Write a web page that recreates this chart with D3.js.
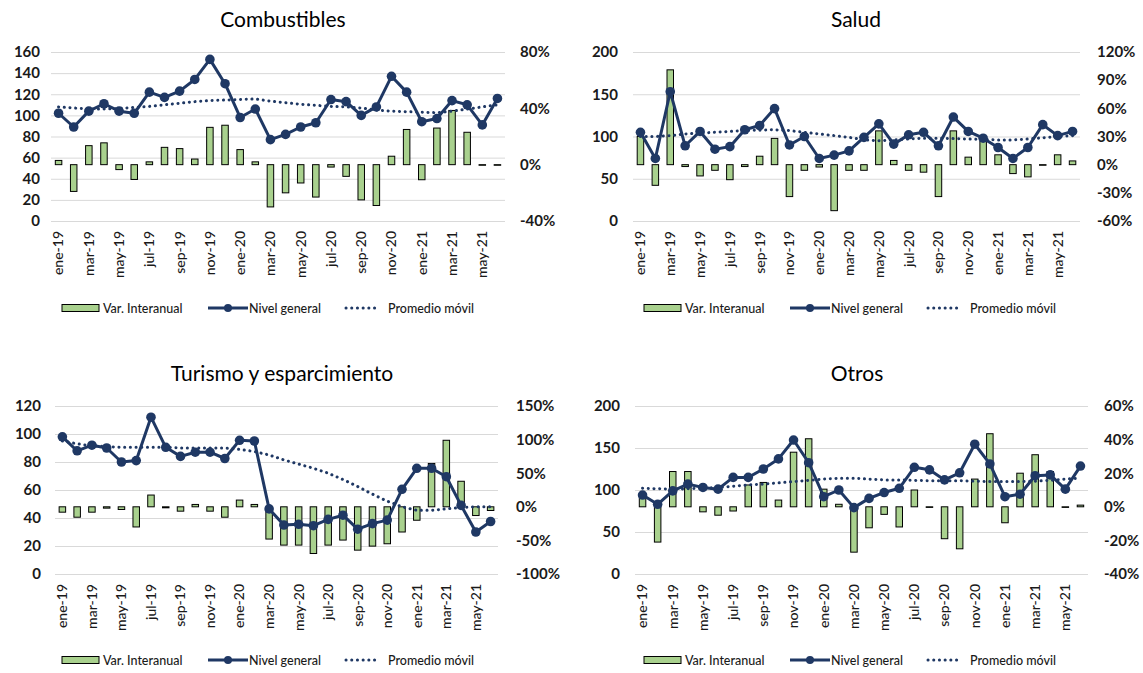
<!DOCTYPE html>
<html>
<head>
<meta charset="utf-8">
<script src="https://cdn.jsdelivr.net/npm/d3@7"></script>
<style>
  body { margin: 0; background: #fff; }
  text { font-family: Lato, "Open Sans", sans-serif; }
</style>
</head>
<body>
<svg id="chart" width="1143" height="673"></svg>
<script>
const months = ["ene-19","feb-19","mar-19","abr-19","may-19","jun-19","jul-19","ago-19","sep-19","oct-19","nov-19","dic-19",
  "ene-20","feb-20","mar-20","abr-20","may-20","jun-20","jul-20","ago-20","sep-20","oct-20","nov-20","dic-20",
  "ene-21","feb-21","mar-21","abr-21","may-21","jun-21"];

// Combustibles
const combNivel = [102, 89, 104, 111, 104, 102, 122, 117, 123, 134, 153, 130, 98, 106, 77, 82, 89, 93, 115, 113, 100, 108, 137, 122, 94, 97, 114, 110, 91, 116];
const combVar = [3, -19, 13.5, 15.5, -3.5, -10.5, 2, 12.3, 11.4, 4, 26.5, 28, 10.7, 2, -30, -20, -13, -23, -1.7, -8.3, -25, -29, 6, 25, -10.7, 26, 38.5, 23, 0, 0];
const combProm = [108, 107, 106, 106, 106.5, 107.5, 108.5, 110, 111.5, 113, 114, 114.5, 115, 115.5, 113.5, 112, 110.5, 109.5, 108.5, 108, 107, 105, 104, 103.5, 103, 102.5, 104, 106, 108, 110];

// Salud
const saludNivel = [105, 74, 153, 89, 106, 85, 88, 108, 113, 133, 90, 100, 74, 78, 83, 99, 115, 91, 102, 105, 89, 123, 106, 98, 87, 74, 87, 114, 101, 106];
const saludVar = [30, -22, 101, -2, -12, -6, -16, -2, 9, 28, -34, -6, -2.5, -49, -6, -6, 36, 4.5, -6, -8, -34, 36, 8, 25, 10.5, -9.5, -13, 0, 10.5, 4];
const saludProm = [100, 100, 101, 103, 104, 105, 106, 107, 107.5, 108, 107, 105, 103, 101, 99, 96, 95, 96, 97, 98, 98, 97.5, 97, 96.5, 96, 96, 97, 98.5, 100, 101];

// Turismo y esparcimiento
const turNivel = [98, 88, 92, 90, 80, 81, 112, 90.5, 84, 87, 87, 82.5, 95.5, 95, 46.5, 35, 35.5, 34.5, 39, 42, 32, 36, 38.5, 60.5, 75.5, 75.5, 69.5, 49, 30, 37.5];
const turVar = [-8, -15.5, -8, -2, -4, -30, 17.5, -1.5, -6.5, 3.5, -6.5, -15.5, 10, 3.5, -48, -57, -57, -69.5, -57, -49.5, -64.5, -58.5, -55, -37.5, -20, 64.5, 99, 38, -13, -5.5];
const turProm = [95, 93, 91.5, 91, 90.5, 90.5, 90.5, 90.5, 90, 90, 90, 90, 89, 87.5, 85, 81.5, 78.5, 75.5, 72, 67.5, 62.5, 57, 52, 48, 45.5, 45.5, 46.5, 47.5, 48, 48];

// Otros
const otrosNivel = [94, 83, 99, 107, 103, 101, 115, 115, 125, 137, 159.5, 132.5, 92, 100, 79, 90, 97, 102, 127, 124, 112, 120.5, 154.5, 131, 92, 95, 117, 118, 101, 128.5];
const otrosVar = [6.5, -21, 21, 21, -3, -5, -2.5, 13, 14.5, 4, 32.5, 40.5, 10.5, 1.5, -27, -12.5, -4.5, -12, 10, 0, -19, -25, 16.5, 43.5, -9.5, 20, 31, 21, 0, 1];
const otrosProm = [102, 101.5, 101, 101.5, 102, 103, 104.5, 106, 107, 108.5, 110, 111.5, 113, 114, 114, 113, 112, 112, 111.5, 111, 111, 111, 110.5, 110, 110, 110, 110.5, 111.5, 113, 114];

const legendLabels = ["Var. Interanual", "Nivel general", "Promedio móvil"];

const navy = "#1F3864";
const green = "#A9D18E";
const ink = "#1a1a1a";

const svg = d3.select("#chart");

// layout for each small chart
const panels = [
  { title: "Combustibles", nivel: combNivel, varia: combVar, prom: combProm,
    xr: [51, 505], yr: [221, 52], left: [0, 160], leftStep: 20, right: [-40, 80], rightStep: 40,
    leftX: 40, rightX: 520, titleX: 283, titleY: 27, legX: 62, legY: 308 },
  { title: "Salud", nivel: saludNivel, varia: saludVar, prom: saludProm,
    xr: [633, 1080], yr: [221, 52], left: [0, 200], leftStep: 50, right: [-60, 120], rightStep: 30,
    leftX: 618, rightX: 1097, titleX: 856, titleY: 27, legX: 644, legY: 308 },
  { title: "Turismo y esparcimiento", nivel: turNivel, varia: turVar, prom: turProm,
    xr: [55, 498], yr: [574, 406], left: [0, 120], leftStep: 20, right: [-100, 150], rightStep: 50,
    leftX: 41, rightX: 516, titleX: 282, titleY: 381, legX: 62, legY: 660 },
  { title: "Otros", nivel: otrosNivel, varia: otrosVar, prom: otrosProm,
    xr: [635, 1088], yr: [574, 406], left: [0, 200], leftStep: 50, right: [-40, 60], rightStep: 20,
    leftX: 620, rightX: 1104, titleX: 857, titleY: 381, legX: 644, legY: 660 }
];

panels.forEach((p) => {
  const g = svg.append("g");

  const x = d3.scaleBand().domain(months).range(p.xr);
  const yL = d3.scaleLinear().domain(p.left).range(p.yr);
  const yR = d3.scaleLinear().domain(p.right).range(p.yr);
  const cx = (i) => x(months[i]) + x.bandwidth() / 2;

  const leftTicks = d3.range(p.left[0], p.left[1] + 0.001, p.leftStep);
  const rightTicks = d3.range(p.right[0], p.right[1] + 0.001, p.rightStep);

  // title
  g.append("text")
    .attr("x", p.titleX)
    .attr("y", p.titleY)
    .attr("text-anchor", "middle")
    .attr("font-size", 21)
    .attr("fill", "#000")
    .text(p.title);

  // gridlines
  g.append("g")
    .attr("transform", `translate(${p.xr[0]},0)`)
    .call(d3.axisLeft(yL).tickValues(leftTicks).tickSize(-(p.xr[1] - p.xr[0])).tickFormat(""))
    .call((a) => a.select(".domain").remove())
    .call((a) => a.selectAll("line").attr("stroke", "#D9D9D9").attr("stroke-width", 1));

  // left axis labels
  g.append("g")
    .attr("transform", `translate(${p.leftX},0)`)
    .call(d3.axisLeft(yL).tickValues(leftTicks).tickSize(0).tickPadding(0))
    .call((a) => a.select(".domain").remove())
    .call((a) => a.selectAll("text").attr("font-size", 15).attr("font-weight", "bold").attr("fill", ink).style("font-family", "Lato, sans-serif"));

  // right axis labels
  g.append("g")
    .attr("transform", `translate(${p.rightX},0)`)
    .call(d3.axisRight(yR).tickValues(rightTicks).tickSize(0).tickPadding(0).tickFormat((d) => d + "%"))
    .call((a) => a.select(".domain").remove())
    .call((a) => a.selectAll("text").attr("font-size", 15).attr("font-weight", "bold").attr("fill", ink).style("font-family", "Lato, sans-serif"));

  // x axis (every second month)
  g.append("g")
    .attr("transform", `translate(0,${p.yr[0]})`)
    .call(d3.axisBottom(x).tickValues(months.filter((d, i) => i % 2 === 0)).tickSize(0))
    .call((a) => a.select(".domain").remove())
    .call((a) => a.selectAll("text")
      .attr("transform", "rotate(-90)")
      .attr("x", -10)
      .attr("y", 0)
      .attr("dy", "0.35em")
      .attr("text-anchor", "end")
      .attr("font-size", 14)
      .attr("font-weight", 500)
      .attr("fill", ink)
      .style("font-family", "Lato, sans-serif"));

  // bars (year-on-year variation, right axis)
  const bw = 6.5;
  g.append("g")
    .selectAll("rect")
    .data(p.varia)
    .enter()
    .append("rect")
    .attr("x", (d, i) => cx(i) - bw / 2)
    .attr("y", (d) => Math.min(yR(d), yR(0)))
    .attr("width", bw)
    .attr("height", (d) => Math.max(Math.abs(yR(d) - yR(0)), 0.6))
    .attr("fill", green)
    .attr("stroke", "#000")
    .attr("stroke-width", 1);

  // moving average (dotted)
  g.append("path")
    .datum(p.prom)
    .attr("fill", "none")
    .attr("stroke", navy)
    .attr("stroke-width", 3)
    .attr("stroke-linecap", "round")
    .attr("stroke-dasharray", "0.1,5.6")
    .attr("d", d3.line().x((d, i) => cx(i)).y((d) => yL(d)));

  // general level line with markers
  g.append("path")
    .datum(p.nivel)
    .attr("fill", "none")
    .attr("stroke", navy)
    .attr("stroke-width", 3)
    .attr("stroke-linejoin", "round")
    .attr("d", d3.line().x((d, i) => cx(i)).y((d) => yL(d)));

  g.append("g")
    .selectAll("circle")
    .data(p.nivel)
    .enter()
    .append("circle")
    .attr("cx", (d, i) => cx(i))
    .attr("cy", (d) => yL(d))
    .attr("r", 4.8)
    .attr("fill", navy);

  // legend
  const lg = g.append("g").attr("transform", `translate(${p.legX},${p.legY})`);
  const legText = (tx, s) => lg.append("text")
    .attr("x", tx).attr("y", 4.5)
    .attr("font-size", 12.5)
    .attr("font-weight", 500)
    .attr("fill", ink)
    .text(s);

  lg.append("rect").attr("x", 0).attr("y", -3.5).attr("width", 37).attr("height", 7)
    .attr("fill", green).attr("stroke", "#000").attr("stroke-width", 1);
  legText(41, legendLabels[0]);

  lg.append("line").attr("x1", 146).attr("x2", 186).attr("y1", 0).attr("y2", 0)
    .attr("stroke", navy).attr("stroke-width", 3);
  lg.append("circle").attr("cx", 166).attr("cy", 0).attr("r", 4).attr("fill", navy);
  legText(187, legendLabels[1]);

  lg.append("line").attr("x1", 284).attr("x2", 318).attr("y1", 0).attr("y2", 0)
    .attr("stroke", navy).attr("stroke-width", 3)
    .attr("stroke-linecap", "round").attr("stroke-dasharray", "0.1,5.6");
  legText(326, legendLabels[2]);
});
</script>
</body>
</html>
